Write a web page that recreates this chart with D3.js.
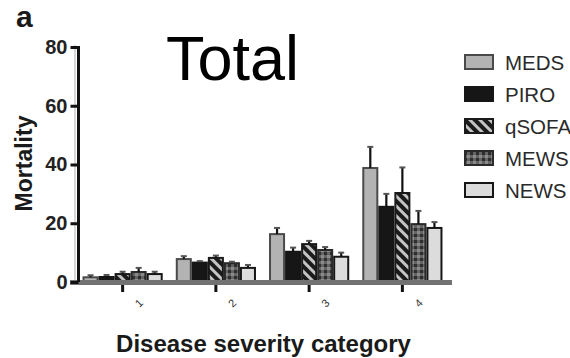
<!DOCTYPE html>
<html>
<head>
<meta charset="utf-8">
<script src="https://cdn.jsdelivr.net/npm/d3@7"></script>
<style>
  html, body { margin: 0; padding: 0; background: #fff; }
  svg { display: block; font-family: "Liberation Sans", Arial, sans-serif; }
</style>
</head>
<body>
<svg id="chart" width="570" height="358"></svg>
<script>
// Disease severity categories (x axis)
const categories = ["1", "2", "3", "4"];
// Scoring systems (one bar per category)
const seriesNames = ["MEDS", "PIRO", "qSOFA", "MEWS", "NEWS"];
// Mortality (%) per category
const medsValues  = [1.6, 7.8, 16.3, 38.8];
const piroValues  = [1.7, 6.6, 10.3, 25.6];
const qsofaValues = [2.7, 8.2, 12.9, 30.3];
const mewsValues  = [3.4, 6.4, 10.9, 19.7];
const newsValues  = [2.7, 4.8, 8.6, 18.4];
// Upper end of the error bars
const medsUpper  = [2.3, 8.8, 18.4, 46.0];
const piroUpper  = [2.4, 7.1, 11.7, 30.0];
const qsofaUpper = [3.5, 9.0, 14.0, 39.0];
const mewsUpper  = [4.8, 6.9, 11.9, 24.2];
const newsUpper  = [3.5, 5.8, 10.0, 20.4];
const yTicks = [0, 20, 40, 60, 80];

const valueTable = [medsValues, piroValues, qsofaValues, mewsValues, newsValues];
const upperTable = [medsUpper, piroUpper, qsofaUpper, mewsUpper, newsUpper];

const svg = d3.select("#chart");

// ---- fill patterns ----
const defs = svg.append("defs");
const stripe = defs.append("pattern")
  .attr("id", "pat-qsofa").attr("patternUnits", "userSpaceOnUse")
  .attr("width", 7).attr("height", 7)
  .attr("patternTransform", "rotate(-45)");
stripe.append("rect").attr("width", 7).attr("height", 7).attr("fill", "#1b1b1b");
stripe.append("rect").attr("width", 3).attr("height", 7).attr("fill", "#c4c4c4");

const check = defs.append("pattern")
  .attr("id", "pat-mews").attr("patternUnits", "userSpaceOnUse")
  .attr("width", 6).attr("height", 6);
check.append("rect").attr("width", 6).attr("height", 6).attr("fill", "#646464");
check.append("rect").attr("width", 3).attr("height", 3).attr("fill", "#2e2e2e");
check.append("rect").attr("x", 3).attr("y", 3).attr("width", 3).attr("height", 3).attr("fill", "#8a8a8a");

const styles = [
  { fill: "#b3b3b3", stroke: "#4a4a4a" },
  { fill: "#161616", stroke: "#161616" },
  { fill: "url(#pat-qsofa)", stroke: "#1a1a1a" },
  { fill: "url(#pat-mews)", stroke: "#2a2a2a" },
  { fill: "#dcdcdc", stroke: "#161616" }
];

// ---- scales ----
const x0 = d3.scaleBand().domain(categories).range([76, 449])
  .paddingInner(0.14).paddingOuter(0.07);
const x1 = d3.scaleBand().domain(seriesNames).range([0, x0.bandwidth()]);
const y = d3.scaleLinear().domain([0, 80]).range([282, 47]);

// ---- bars ----
const rows = [];
categories.forEach((c, ci) => {
  seriesNames.forEach((s, si) => {
    rows.push({ cat: c, series: s, si, value: valueTable[si][ci], upper: upperTable[si][ci] });
  });
});

const plot = svg.append("g");
plot.selectAll("rect.bar").data(rows).enter().append("rect")
  .attr("class", "bar")
  .attr("x", d => x0(d.cat) + x1(d.series) + 1)
  .attr("y", d => y(d.value))
  .attr("width", x1.bandwidth() - 2)
  .attr("height", d => y(0) - y(d.value))
  .attr("fill", d => styles[d.si].fill)
  .attr("stroke", d => styles[d.si].stroke)
  .attr("stroke-width", 2);

// error bars (upper whisker only)
const err = plot.selectAll("g.err").data(rows).enter().append("g").attr("class", "err");
err.append("line")
  .attr("x1", d => x0(d.cat) + x1(d.series) + x1.bandwidth() / 2)
  .attr("x2", d => x0(d.cat) + x1(d.series) + x1.bandwidth() / 2)
  .attr("y1", d => y(d.value))
  .attr("y2", d => y(d.upper))
  .attr("stroke", "#111").attr("stroke-width", 2.2);
err.append("line")
  .attr("x1", d => x0(d.cat) + x1(d.series) + x1.bandwidth() / 2 - 3)
  .attr("x2", d => x0(d.cat) + x1(d.series) + x1.bandwidth() / 2 + 3)
  .attr("y1", d => y(d.upper))
  .attr("y2", d => y(d.upper))
  .attr("stroke", "#555").attr("stroke-width", 2);

// ---- x axis ----
const xAxis = svg.append("g").attr("transform", "translate(0,282)")
  .call(d3.axisBottom(x0).tickSize(10).tickPadding(9).tickSizeOuter(0));
xAxis.select(".domain").remove();
xAxis.selectAll(".tick line").attr("stroke", "#111").attr("stroke-width", 3);
xAxis.selectAll(".tick text")
  .attr("font-size", 11).attr("fill", "#333")
  .attr("transform", "translate(0,5) rotate(-45)")
  .attr("text-anchor", "middle");
svg.append("line")
  .attr("x1", 70).attr("x2", 452).attr("y1", 282.5).attr("y2", 282.5)
  .attr("stroke", "#727272").attr("stroke-width", 5);

// ---- y axis ----
svg.append("line")
  .attr("x1", 75).attr("x2", 75).attr("y1", 45).attr("y2", 280)
  .attr("stroke", "#d8d8d8").attr("stroke-width", 2);
const yAxis = svg.append("g").attr("transform", "translate(78.5,0)")
  .call(d3.axisLeft(y).tickValues(yTicks).tickSize(8).tickPadding(3).tickSizeOuter(0));
yAxis.select(".domain").attr("stroke", "#111").attr("stroke-width", 3)
  .attr("d", `M0,${y(80) - 1}V${y(0)}`);
yAxis.selectAll(".tick line").attr("stroke", "#111").attr("stroke-width", 3);
yAxis.selectAll(".tick text")
  .attr("font-size", 20).attr("font-weight", "bold").attr("fill", "#222")
  .attr("font-family", "'Liberation Sans', Arial, sans-serif");

// ---- titles ----
svg.append("text").attr("x", 16).attr("y", 27)
  .attr("font-size", 30).attr("font-weight", "bold").attr("fill", "#1a1a1a")
  .text("a");
svg.append("text").attr("x", 166).attr("y", 80)
  .attr("font-size", 63).attr("fill", "#000")
  .text("Total");
svg.append("text")
  .attr("transform", "translate(32,163.5) rotate(-90)")
  .attr("text-anchor", "middle")
  .attr("font-size", 23).attr("font-weight", "bold").attr("fill", "#1a1a1a")
  .text("Mortality");
svg.append("text").attr("x", 263.5).attr("y", 352)
  .attr("text-anchor", "middle")
  .attr("font-size", 24).attr("font-weight", "bold").attr("fill", "#1a1a1a")
  .text("Disease severity category");

// ---- legend ----
const legend = svg.append("g").selectAll("g").data(seriesNames).enter().append("g")
  .attr("transform", (d, i) => `translate(464,${62 + i * 32})`);
legend.append("rect")
  .attr("x", 1).attr("y", -7).attr("width", 28).attr("height", 14)
  .attr("fill", (d, i) => styles[i].fill)
  .attr("stroke", (d, i) => styles[i].stroke)
  .attr("stroke-width", 2);
legend.append("text")
  .attr("x", 41).attr("y", 7.5)
  .attr("font-size", 20.5).attr("fill", "#2a2a2a")
  .text(d => d);
</script>
</body>
</html>
